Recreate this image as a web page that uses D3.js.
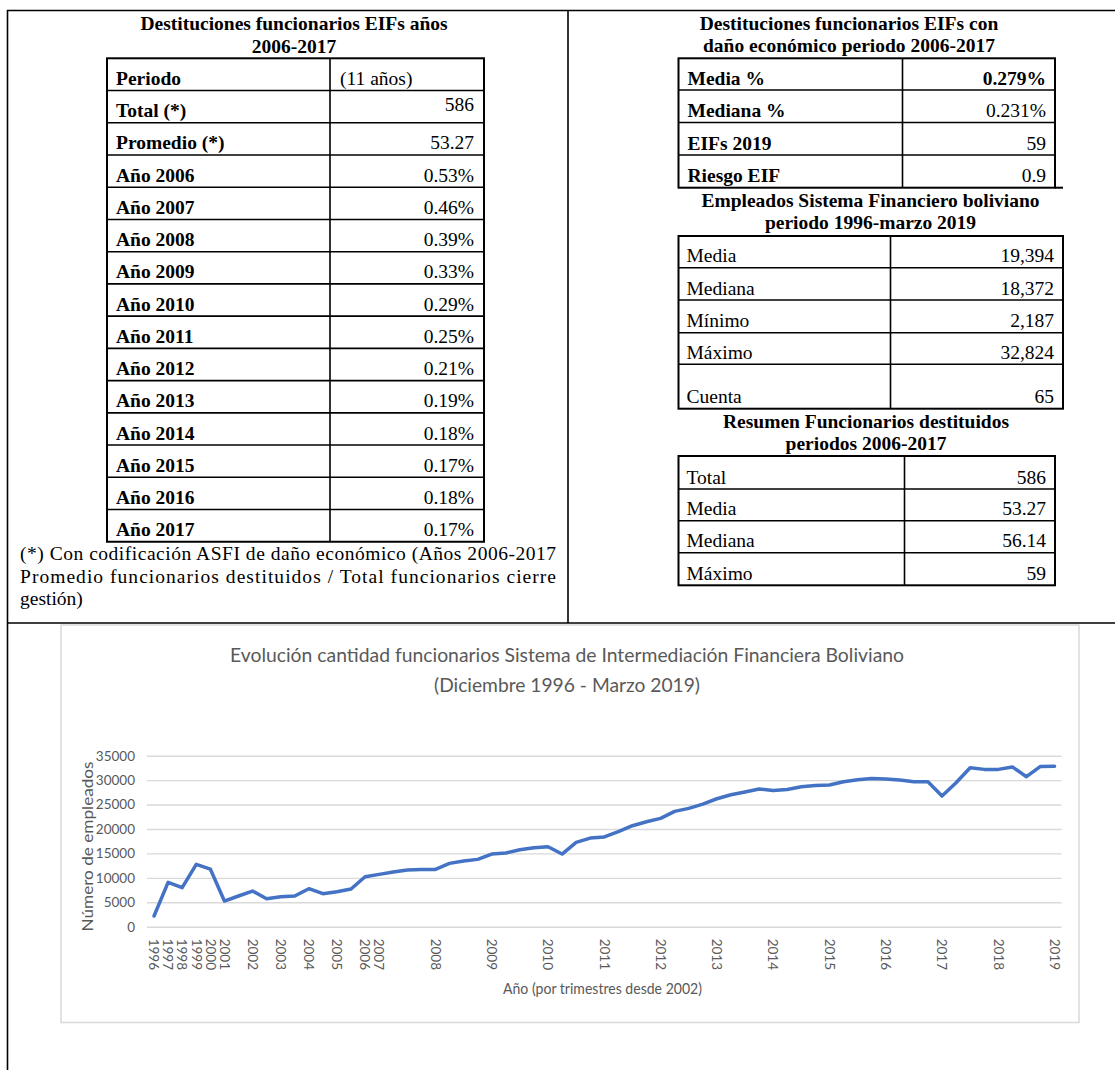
<!DOCTYPE html>
<html>
<head>
<meta charset="utf-8">
<script src="https://cdn.jsdelivr.net/npm/d3@7"></script>
<style>
  body { margin: 0; background: #fff; }
  svg { display: block; }
</style>
</head>
<body>
<div id="main"></div>
<script>
(function() {
  // ---- datos de las tablas ----
  const periodoLabels = ["Periodo", "Total (*)", "Promedio (*)", "Año 2006", "Año 2007", "Año 2008",
    "Año 2009", "Año 2010", "Año 2011", "Año 2012", "Año 2013", "Año 2014", "Año 2015", "Año 2016", "Año 2017"];
  const periodoValues = ["(11 años)", "586", "53.27", "0.53%", "0.46%", "0.39%", "0.33%", "0.29%",
    "0.25%", "0.21%", "0.19%", "0.18%", "0.17%", "0.18%", "0.17%"];

  const danoLabels = ["Media %", "Mediana %", "EIFs 2019", "Riesgo EIF"];
  const danoValues = ["0.279%", "0.231%", "59", "0.9"];

  const empleadosLabels = ["Media", "Mediana", "Mínimo", "Máximo", "Cuenta"];
  const empleadosValues = ["19,394", "18,372", "2,187", "32,824", "65"];

  const resumenLabels = ["Total", "Media", "Mediana", "Máximo"];
  const resumenValues = ["586", "53.27", "56.14", "59"];

  const footnoteLines = [
    "(*) Con codificación ASFI de daño económico (Años 2006-2017",
    "Promedio funcionarios destituidos / Total funcionarios cierre",
    "gestión)"
  ];

  // ---- datos del gráfico (65 observaciones) ----
  const periodLabels = ["1996", "1997", "1998", "1999", "2000", "2001", "", "2002", "", "2003", "", "2004", "", "2005", "",
    "2006", "2007", "", "", "", "2008", "", "", "", "2009", "", "", "", "2010", "", "", "",
    "2011", "", "", "", "2012", "", "", "", "2013", "", "", "", "2014", "", "", "",
    "2015", "", "", "", "2016", "", "", "", "2017", "", "", "", "2018", "", "", "", "2019"];
  const employees = [2187, 9070, 7980, 12760, 11800, 5250, 6280, 7300, 5730, 6140, 6280, 7780, 6750, 7160, 7710,
    10230, 10710, 11190, 11600, 11730, 11730, 12960, 13440, 13780, 14870, 15080, 15760, 16170, 16370, 14870, 17260, 18140,
    18372, 19440, 20670, 21490, 22170, 23600, 24220, 25100, 26190, 27010, 27560, 28170, 27900, 28100, 28650, 28920,
    28990, 29670, 30080, 30350, 30220, 30010, 29670, 29670, 26740, 29470, 32540, 32200, 32200, 32700, 30700, 32800, 32824];
  const yTicks = [0, 5000, 10000, 15000, 20000, 25000, 30000, 35000];

  const serif = "'Liberation Serif', 'Times New Roman', serif";
  const sans = "Lato, 'Open Sans', sans-serif";
  const grey = "#595959";

  const svg = d3.select("#main")
    .append("svg")
    .attr("width", 1115)
    .attr("height", 1070);

  svg.append("rect").attr("width", 1115).attr("height", 1070).attr("fill", "#fff");

  // marco de la pagina
  const frame = svg.append("g").attr("stroke", "#000").attr("stroke-width", 1.6);
  frame.append("line").attr("x1", 7).attr("y1", 10.5).attr("x2", 1115).attr("y2", 10.5);
  frame.append("line").attr("x1", 7.5).attr("y1", 10).attr("x2", 7.5).attr("y2", 1070);
  frame.append("line").attr("x1", 568).attr("y1", 10).attr("x2", 568).attr("y2", 623);
  frame.append("line").attr("x1", 7).attr("y1", 623).attr("x2", 1115).attr("y2", 623);

  function title(lines, cx, ys) {
    svg.append("g").selectAll("text")
      .data(lines)
      .join("text")
      .attr("x", cx)
      .attr("y", (d, i) => ys[i])
      .attr("text-anchor", "middle")
      .attr("font-family", serif)
      .attr("font-weight", "bold")
      .attr("font-size", "19.5px")
      .text(d => d);
  }

  function drawTable(cfg) {
    const g = svg.append("g");
    const b = cfg.bounds;
    const rows = cfg.labels.map((l, i) => ({ label: l, value: cfg.values[i], top: b[i], bottom: b[i + 1], i }));

    g.append("rect")
      .attr("x", cfg.x[0]).attr("y", b[0])
      .attr("width", cfg.x[2] - cfg.x[0]).attr("height", b[b.length - 1] - b[0])
      .attr("fill", "none").attr("stroke", "#000").attr("stroke-width", 2);

    g.selectAll("line.row")
      .data(b.slice(1, -1))
      .join("line")
      .attr("class", "row")
      .attr("x1", cfg.x[0]).attr("x2", cfg.x[2])
      .attr("y1", d => d).attr("y2", d => d)
      .attr("stroke", "#000").attr("stroke-width", 1.6);

    g.append("line")
      .attr("x1", cfg.x[1]).attr("x2", cfg.x[1])
      .attr("y1", b[0]).attr("y2", b[b.length - 1])
      .attr("stroke", "#000").attr("stroke-width", 1.6);

    g.selectAll("text.label")
      .data(rows)
      .join("text")
      .attr("class", "label")
      .attr("x", cfg.x[0] + cfg.padL)
      .attr("y", d => d.bottom - 5.5)
      .attr("font-family", serif)
      .attr("font-size", "19.5px")
      .attr("font-weight", cfg.boldLabels ? "bold" : "normal")
      .text(d => d.label);

    g.selectAll("text.value")
      .data(rows)
      .join("text")
      .attr("class", "value")
      .attr("x", d => cfg.leftValue && cfg.leftValue(d) ? cfg.x[1] + 10 : cfg.x[2] - cfg.padR)
      .attr("y", d => cfg.valueY ? cfg.valueY(d) : d.bottom - 5.5)
      .attr("text-anchor", d => cfg.leftValue && cfg.leftValue(d) ? "start" : "end")
      .attr("font-family", serif)
      .attr("font-size", "19.5px")
      .attr("font-weight", d => cfg.boldValue && cfg.boldValue(d) ? "bold" : "normal")
      .text(d => d.value);
    return g;
  }

  // ---- tabla izquierda ----
  title(["Destituciones funcionarios EIFs años", "2006-2017"], 294, [30, 52.5]);
  drawTable({
    labels: periodoLabels, values: periodoValues,
    x: [107, 330, 484],
    bounds: d3.range(16).map(i => 58.3 + i * 32.23),
    padL: 9, padR: 10, boldLabels: true,
    leftValue: d => d.i === 0,
    valueY: d => d.i === 1 ? d.top + 20 : d.bottom - 5.5
  });

  svg.append("g").selectAll("text")
    .data(footnoteLines)
    .join("text")
    .attr("x", 20)
    .attr("y", (d, i) => 560 + i * 22.5)
    .attr("font-family", serif)
    .attr("font-size", "19.5px")
    .attr("textLength", (d, i) => i < 2 ? 536 : null)
    .attr("lengthAdjust", "spacing")
    .text(d => d);

  // ---- tablas derecha ----
  title(["Destituciones funcionarios EIFs con", "daño económico periodo 2006-2017"], 849, [29.5, 51.7]);
  drawTable({
    labels: danoLabels, values: danoValues,
    x: [678.5, 902.5, 1055],
    bounds: [58.3, 90, 122.5, 155, 187.7],
    padL: 9, padR: 9, boldLabels: true,
    boldValue: d => d.i === 0
  });
  svg.append("line").attr("x1", 1055).attr("x2", 1063).attr("y1", 187.7).attr("y2", 187.7)
    .attr("stroke", "#000").attr("stroke-width", 2);

  title(["Empleados Sistema Financiero boliviano", "periodo 1996-marzo 2019"], 870.5, [206.5, 229.3]);
  drawTable({
    labels: empleadosLabels, values: empleadosValues,
    x: [678.5, 890.5, 1063],
    bounds: [236, 267.7, 300, 332.7, 364.3, 408.7],
    padL: 8, padR: 9, boldLabels: false
  });

  title(["Resumen Funcionarios destituidos", "periodos 2006-2017"], 866, [428.3, 450]);
  drawTable({
    labels: resumenLabels, values: resumenValues,
    x: [678.5, 904.5, 1055],
    bounds: [456, 489, 520.7, 552.7, 585.3],
    padL: 8, padR: 9, boldLabels: false
  });

  // ---- grafico ----
  svg.append("rect")
    .attr("x", 61).attr("y", 625)
    .attr("width", 1018).attr("height", 397.5)
    .attr("fill", "#fff")
    .attr("stroke", "#d9d9d9").attr("stroke-width", 1.5);

  const x = d3.scaleBand()
    .domain(d3.range(employees.length))
    .range([147, 1061.6]);
  const xc = i => x(i) + x.bandwidth() / 2;

  const y = d3.scaleLinear()
    .domain([0, 35000])
    .range([926.7, 755.7]);

  const yAxis = svg.append("g")
    .attr("transform", "translate(147,0)")
    .call(d3.axisLeft(y).tickValues(yTicks).tickSize(-(1061.6 - 147)).tickPadding(12).tickFormat(d3.format("d")));
  yAxis.select(".domain").remove();
  yAxis.selectAll(".tick line").attr("stroke", "#d9d9d9").attr("stroke-width", 1.4);
  yAxis.selectAll(".tick text")
    .attr("fill", grey)
    .attr("font-family", sans)
    .attr("font-size", "13.5px");

  const xAxis = svg.append("g")
    .attr("transform", "translate(0,926.7)")
    .call(d3.axisBottom(x).tickSize(0).tickFormat(i => periodLabels[i]));
  xAxis.select(".domain").remove();
  xAxis.selectAll(".tick text")
    .attr("fill", grey)
    .attr("font-family", sans)
    .attr("font-size", "13.5px")
    .attr("text-anchor", "start")
    .attr("x", 0)
    .attr("y", 0)
    .attr("dy", "0.35em")
    .attr("transform", "translate(0,12) rotate(90)");

  const line = d3.line()
    .x((d, i) => xc(i))
    .y(d => y(d));

  svg.append("path")
    .datum(employees)
    .attr("d", line)
    .attr("fill", "none")
    .attr("stroke", "#4472c4")
    .attr("stroke-width", 3.5)
    .attr("stroke-linejoin", "round")
    .attr("stroke-linecap", "round");

  svg.append("g").selectAll("text")
    .data(["Evolución cantidad funcionarios Sistema de Intermediación Financiera Boliviano", "(Diciembre 1996 - Marzo 2019)"])
    .join("text")
    .attr("x", 567)
    .attr("y", (d, i) => i === 0 ? 662 : 692)
    .attr("text-anchor", "middle")
    .attr("fill", grey)
    .attr("font-family", sans)
    .attr("font-size", "20px")
    .attr("textLength", (d, i) => i === 0 ? 674 : 266)
    .attr("lengthAdjust", "spacingAndGlyphs")
    .text(d => d);

  svg.append("text")
    .attr("transform", "translate(93,846.5) rotate(-90)")
    .attr("text-anchor", "middle")
    .attr("fill", grey)
    .attr("font-family", sans)
    .attr("font-size", "15px")
    .attr("textLength", 170)
    .attr("lengthAdjust", "spacingAndGlyphs")
    .text("Número de empleados");

  svg.append("text")
    .attr("x", 602.5)
    .attr("y", 994)
    .attr("text-anchor", "middle")
    .attr("fill", grey)
    .attr("font-family", sans)
    .attr("font-size", "15px")
    .attr("textLength", 199)
    .attr("lengthAdjust", "spacingAndGlyphs")
    .text("Año (por trimestres desde 2002)");
})();
</script>
</body>
</html>
